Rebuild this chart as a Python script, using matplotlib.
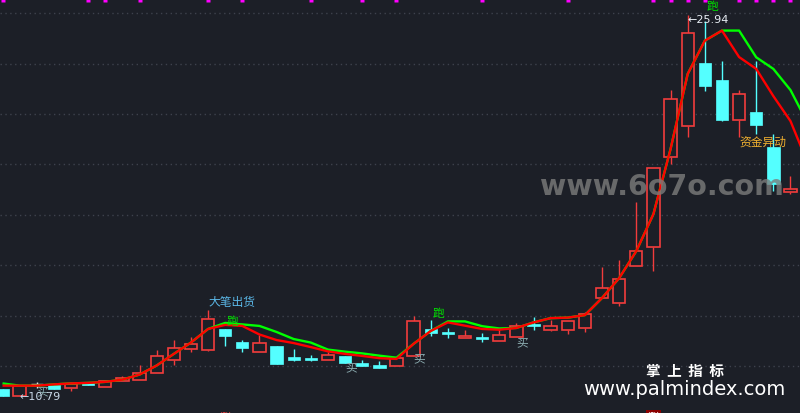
import numpy as np
import matplotlib
matplotlib.use('Agg')
import matplotlib.pyplot as plt
from matplotlib.patches import Rectangle

plt.rcParams['font.family'] = ['Noto Sans CJK SC', 'DejaVu Sans']

# daily candles
opens = [11.09, 10.80, 11.29, 11.26, 11.12, 11.31, 11.15, 11.42, 11.46, 11.71,
         12.23, 12.69, 12.65, 13.47, 12.96, 12.54, 12.78, 12.36, 12.32, 12.25,
         12.41, 12.12, 12.04, 11.99, 12.38, 13.47, 13.34, 13.10, 13.12, 13.00,
         13.14, 13.68, 13.42, 13.41, 13.50, 14.69, 14.49, 15.96, 16.71, 20.28,
         21.54, 24.02, 23.35, 21.75, 22.07, 20.70, 18.89]
highs = [11.09, 11.19, 11.38, 11.26, 11.29, 11.33, 11.42, 11.62, 12.04, 12.63,
         13.03, 13.14, 14.22, 13.47, 13.03, 13.24, 12.78, 12.67, 12.45, 12.54,
         12.41, 12.23, 12.21, 12.33, 13.99, 13.83, 13.50, 13.44, 13.31, 13.51,
         13.69, 13.93, 13.83, 13.77, 14.15, 15.94, 16.21, 18.52, 19.85, 22.95,
         25.94, 25.70, 24.12, 22.95, 24.12, 21.21, 19.55]
lows = [10.82, 10.79, 11.12, 11.09, 11.02, 11.23, 11.15, 11.42, 11.46, 11.71,
        12.05, 12.54, 12.61, 12.81, 12.57, 12.54, 12.09, 12.20, 12.21, 12.25,
        12.12, 12.00, 11.93, 11.99, 12.38, 13.20, 13.12, 13.10, 12.96, 13.00,
        13.14, 13.44, 13.37, 13.27, 13.34, 14.69, 14.39, 15.96, 15.78, 20.02,
        21.08, 22.92, 21.73, 21.08, 21.21, 18.96, 18.82]
closes = [10.82, 11.19, 11.29, 11.09, 11.29, 11.25, 11.42, 11.51, 11.72, 12.38,
          12.71, 12.87, 13.85, 13.20, 12.73, 12.91, 12.09, 12.25, 12.25, 12.44,
          12.12, 12.00, 11.93, 12.33, 13.77, 13.31, 13.26, 13.18, 13.08, 13.23,
          13.58, 13.60, 13.58, 13.77, 14.06, 15.08, 15.45, 16.56, 19.85, 22.60,
          25.21, 23.12, 21.77, 22.79, 21.58, 19.22, 19.02]

# smoothed lines (one extra point past the right edge)
red_line = [11.22, 11.22, 11.22, 11.27, 11.31, 11.33, 11.37, 11.46, 11.66, 12.02,
            12.48, 12.93, 13.47, 13.63, 13.59, 13.25, 13.03, 12.91, 12.75, 12.58,
            12.48, 12.40, 12.31, 12.28, 12.88, 13.39, 13.73, 13.60, 13.47, 13.44,
            13.51, 13.73, 13.90, 13.92, 14.02, 14.70, 15.49, 16.56, 18.03, 20.61,
            23.59, 24.91, 25.31, 24.26, 23.79, 22.71, 21.72, 20.06]
green_line = [11.31, 11.22, 11.22, 11.27, 11.31, 11.33, 11.37, 11.46, 11.66, 12.02,
              12.48, 12.93, 13.47, 13.71, 13.65, 13.59, 13.35, 13.07, 12.93, 12.65,
              12.57, 12.50, 12.41, 12.33, 12.88, 13.39, 13.77, 13.77, 13.58, 13.49,
              13.51, 13.73, 13.90, 13.92, 14.02, 14.70, 15.49, 16.56, 18.03, 20.61,
              23.59, 24.91, 25.31, 25.31, 24.25, 23.79, 22.95, 21.64]

top_marks = [0, 5, 6, 8, 12, 14, 18, 21, 23, 28, 33, 38, 39, 40, 41, 43, 44, 45, 46]
run_idx = [13, 25, 41]          # 跑
buy_idx = [2, 20, 24, 30]       # 买

bg = '#1c1f27'
up_col = '#f23c3c'
dn_col = '#54ffff'

fig = plt.figure(figsize=(8, 4.14), dpi=100, facecolor=bg)
ax = fig.add_axes([0, 0, 1, 1], facecolor=bg)
ax.set_xlim(-0.146, 46.556)
ax.set_ylim(10.135, 26.563)
ax.axis('off')

for lev in range(12, 27, 2):
    ax.axhline(lev, color='#3e424d', lw=1, ls=(0, (1, 2.5)), zorder=0)

w = 0.72
for i in range(len(opens)):
    o, h, l, c = opens[i], highs[i], lows[i], closes[i]
    if c > o:
        ax.vlines(i, c, h, color=up_col, lw=1, zorder=2)
        ax.vlines(i, l, o, color=up_col, lw=1, zorder=2)
        ax.add_patch(Rectangle((i - w/2, o), w, c - o, facecolor=bg,
                               edgecolor=up_col, lw=1.2, zorder=2))
    elif c < o:
        ax.vlines(i, l, h, color=dn_col, lw=1, zorder=2)
        ax.add_patch(Rectangle((i - w/2, c), w, max(o - c, 0.06), facecolor=dn_col,
                               edgecolor=dn_col, lw=0.5, zorder=2))
    else:
        ax.vlines(i, l, h, color='#e0e0e0', lw=1, zorder=2)
        ax.hlines(o, i - w/2, i + w/2, color='#e0e0e0', lw=1, zorder=2)

xs = np.arange(len(red_line))
ax.plot(xs, green_line, color='#00ff00', lw=1.7, zorder=3, solid_capstyle='butt')
ax.plot(xs, red_line, color='#ff0000', lw=1.7, zorder=4, solid_capstyle='butt')

ax.plot(top_marks, [26.52] * len(top_marks), ls='none', marker='s', ms=2.2,
        color='#ff00ff', mec='none', clip_on=False, zorder=5)

for k, y in zip(run_idx, [13.79, 14.12, 26.29]):
    ax.text(k + 0.08, y, '跑', color='#00dd00', fontsize=8.5, ha='left', va='center', zorder=6)
for k, y in zip(buy_idx, [11.01, 11.98, 12.32, 12.95]):
    ax.text(k, y, '买', color='#8fb0b4', fontsize=8.5, ha='left', va='center', zorder=6)

ax.text(12, 14.56, '大笔出货', color='#5bb8e8', fontsize=8.5, ha='left', va='center', zorder=6)
ax.text(43, 20.91, '资金异动', color='#f0b030', fontsize=8.5, ha='left', va='center', zorder=6)

ax.text(1.0, 10.79, '←10.79', color='#c8d8e8', fontsize=8, ha='left', va='center',
        family='DejaVu Sans', zorder=6)
ax.text(40.0, 25.75, '←25.94', color='#e8eef4', fontsize=8, ha='left', va='center',
        family='DejaVu Sans', zorder=6)

ax.text(38, 10.0, '涨', color='white', fontsize=8, ha='center', va='center', zorder=6,
        bbox=dict(boxstyle='square,pad=0.15', fc='#8b0000', ec='none'))
ax.text(13, 10.0, '涨', color=up_col, fontsize=8, ha='center', va='center', zorder=6)

# watermarks
fig.text(0.8275, 0.549, 'www.6o7o.com', color='#7c7c7c', alpha=0.8, fontsize=20.5,
         fontweight='bold', ha='center', va='center', family='DejaVu Sans')
fig.text(0.856, 0.105, '掌  上  指  标', color='white', fontsize=10.5, fontweight='bold',
         ha='center', va='center')
fig.text(0.856, 0.058, 'www.palmindex.com', color='white', fontsize=14,
         ha='center', va='center', family='DejaVu Sans')

fig.savefig('out.png', dpi=100, facecolor=bg)
